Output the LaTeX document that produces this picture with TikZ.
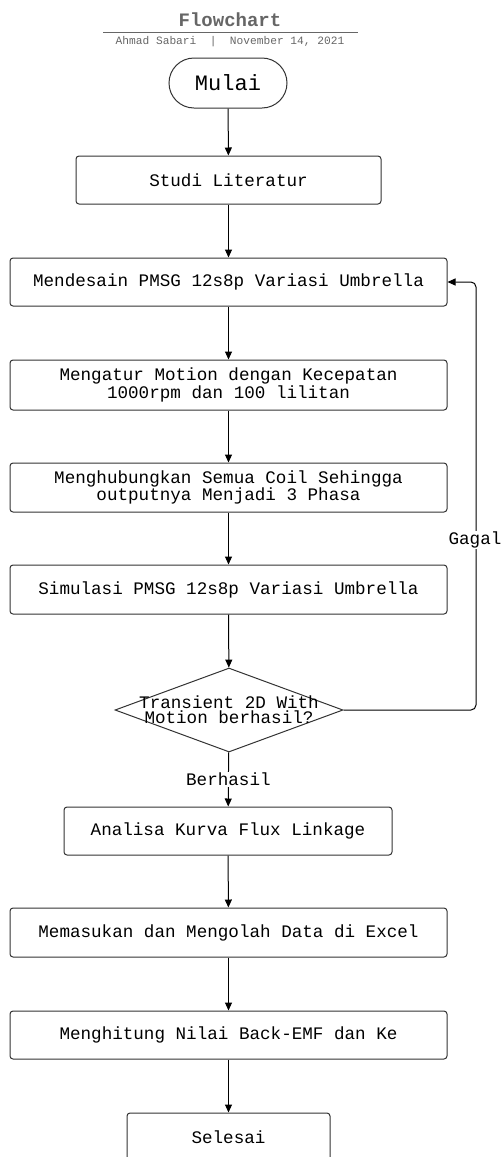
\documentclass[tikz,border=0pt]{standalone}
\usepackage{fontspec}
\setmonofont{Liberation Mono}
\usetikzlibrary{shapes.geometric,arrows.meta}

\begin{document}
\begin{tikzpicture}[x=1pt,y=-1pt,
  txt/.style={font=\ttfamily\fontsize{17.6}{15}\selectfont},
  box/.style={txt,rectangle,rounded corners=3pt,draw=black!80,line width=1pt,align=center,minimum height=48pt,inner sep=0pt},
  wide/.style={box,minimum width=437pt},
  startstop/.style={box,rounded corners=25pt,minimum width=118pt,minimum height=50pt,font=\ttfamily\fontsize{22}{22}\selectfont},
  decision/.style={diamond,draw=black!80,line width=1pt,minimum width=228pt,minimum height=84pt,inner sep=0pt},
  arr/.style={-{Triangle[width=7pt,length=8pt]},line width=1pt},
  lbl/.style={txt,fill=white,inner sep=1pt}]
\useasboundingbox (0,0) rectangle (501,1157);

% judul
\node[text=black!60,font=\ttfamily\bfseries\fontsize{19}{19}\selectfont] (judul) at (230,20) {Flowchart};
\draw[black!60,line width=1pt] (103,32) -- (358,32);
\node[text=black!60,font=\ttfamily\fontsize{11.2}{11.2}\selectfont] (penulis) at (230,42) {Ahmad Sabari\ \ |\ \ November 14, 2021};

\node[startstop] (mulai) at (228,83) {Mulai};
\node[box,minimum width=305pt] (studi) at (228.5,180) {Studi Literatur};
\node[wide] (desain) at (228.5,282) {Mendesain PMSG 12s8p Variasi Umbrella};
\node[wide,minimum height=50pt] (atur) at (228.5,385) {Mengatur Motion dengan Kecepatan\\1000rpm dan 100 lilitan};
\node[wide,minimum height=49pt] (hubung) at (228.5,487.5) {Menghubungkan Semua Coil Sehingga\\outputnya Menjadi 3 Phasa};
\node[wide,minimum height=49pt] (simulasi) at (228.5,589.5) {Simulasi PMSG 12s8p Variasi Umbrella};
\node[decision,label={[txt,align=center]center:Transient 2D With\\Motion berhasil?}] (cek) at (229,710) {};
\node[box,minimum width=328pt] (analisa) at (228,831) {Analisa Kurva Flux Linkage};
\node[wide,minimum height=49pt] (olah) at (228.5,932.5) {Memasukan dan Mengolah Data di Excel};
\node[wide] (hitung) at (228.5,1035) {Menghitung Nilai Back-EMF dan Ke};
\node[box,minimum width=203pt] (selesai) at (228.5,1137) {Selesai};

\draw[arr] (mulai) -- (studi);
\draw[arr] (studi) -- (desain);
\draw[arr] (desain) -- (atur);
\draw[arr] (atur) -- (hubung);
\draw[arr] (hubung) -- (simulasi);
\draw[arr] (simulasi) -- (cek);
\draw[arr] (cek) -- node[lbl] (berhasil) {Berhasil} (analisa);
\draw[arr] (analisa) -- (olah);
\draw[arr] (olah) -- (hitung);
\draw[arr] (hitung) -- (selesai);

%%%%%%%% balik jika gagal
\coordinate (balik) at (476,282);
\draw[arr,rounded corners=5pt] (cek.east) -| (balik) -- (desain.east);
\node[lbl] (gagal) at (475,540) {Gagal};

\end{tikzpicture}
\end{document}
